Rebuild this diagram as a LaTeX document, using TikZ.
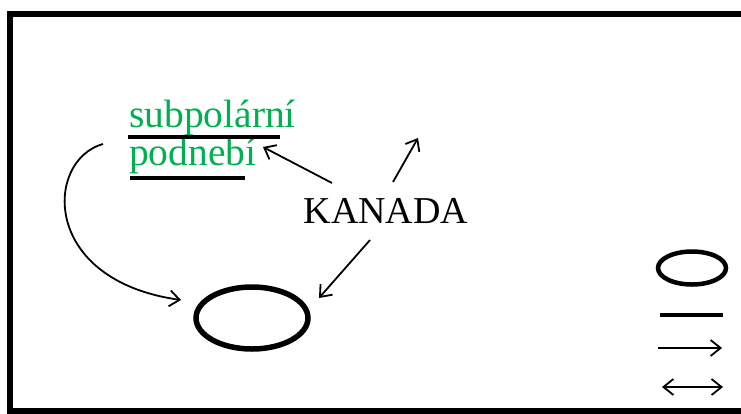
\documentclass[tikz,border=0pt]{standalone}
\usepackage{fontspec}
\setmainfont{Liberation Serif}
\usetikzlibrary{arrows.meta,shapes.geometric}
\definecolor{tgreen}{RGB}{0,176,80}
\begin{document}
\begin{tikzpicture}[x=1pt,y=-1pt,
  arr/.style={line width=1.8pt,-{Straight Barb[length=10pt,width=16pt,line width=1.8pt]}},
  darr/.style={line width=1.8pt,{Straight Barb[length=10pt,width=16pt,line width=1.8pt]}-{Straight Barb[length=10pt,width=16pt,line width=1.8pt]}},
  big/.style={inner sep=0pt,font=\fontsize{38}{40}\selectfont},
  grn/.style={inner sep=0pt,text=tgreen,font=\fontsize{39.5}{42}\selectfont},
  ul/.style={line width=4.5pt}]
\useasboundingbox (0,0) rectangle (741,413);
\clip (0,0) rectangle (741,413);
% frame
\draw[line width=6pt] (10,14) rectangle (760,411);
% texts
\node[grn,anchor=base west] (sub) at (129,127) {subpolární};
\node[grn,anchor=base west] (pod) at (129,165) {podnebí};
\node[big,anchor=base] (kan) at (386,223) {KANADA};
% underlines
\draw[ul] (128,137) -- (280,137);
\draw[ul] (130,178) -- (245,178);
% ellipse
\node[draw,line width=5.5pt,ellipse,minimum width=112pt,minimum height=62pt,inner sep=0pt] (ell) at (252,318) {};
% named arrow ends
\coordinate (k1) at (332,183);
\coordinate (p1) at (263,147);
\coordinate (k2) at (393,182);
\coordinate (up) at (418,138);
\coordinate (k3) at (370,240);
\coordinate (e1) at (319,298);
\coordinate (c0) at (103,144);
\coordinate (c1) at (181,300);
\draw[arr] (k1) -- (p1);
\draw[arr] (k2) -- (up);
\draw[arr] (k3) -- (e1);
\draw[arr] (c0) .. controls (45,160) and (40,280) .. (c1);
% legend
\node[draw,line width=4.5pt,ellipse,minimum width=68pt,minimum height=33pt,inner sep=0pt] (lell) at (692,268) {};
\coordinate (l1a) at (660,315); \coordinate (l1b) at (723,315);
\coordinate (l2a) at (658,348); \coordinate (l2b) at (722,348);
\coordinate (l3a) at (662,387); \coordinate (l3b) at (723,387);
\draw[line width=3.5pt] (l1a) -- (l1b);
\draw[arr] (l2a) -- (l2b);
\draw[darr] (l3a) -- (l3b);
\end{tikzpicture}
\end{document}
